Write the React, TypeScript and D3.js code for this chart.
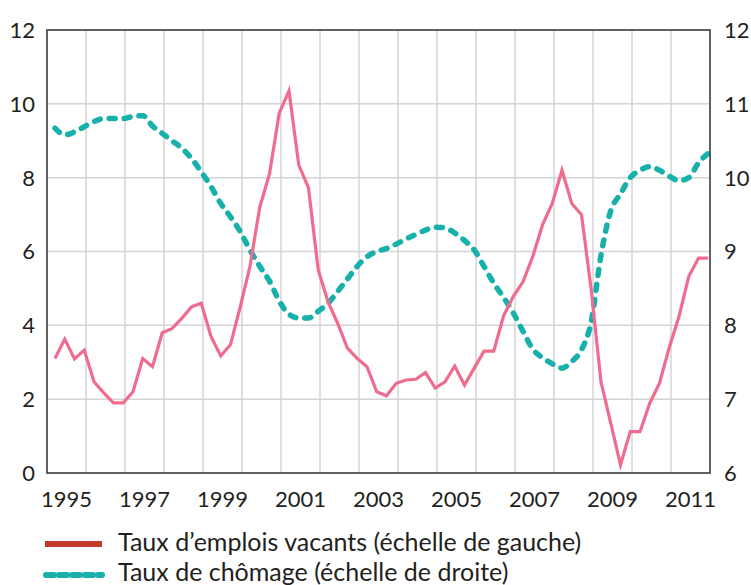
import React from "react";
import * as d3 from "d3";

const years = [1995,1996,1997,1998,1999,2000,2001,2002,2003,2004,2005,2006,2007,2008,2009,2010,2011];
const yearLabels = ["1995","1997","1999","2001","2003","2005","2007","2009","2011"];
const leftTicks = [0,2,4,6,8,10,12];
const rightTicks = [6,7,8,9,10,11,12];

// Taux d'emplois vacants (quarterly, left scale)
const vacancies = [
  3.1, 3.63, 3.09, 3.33,
  2.47, 2.17, 1.9, 1.9,
  2.2, 3.1, 2.88, 3.8,
  3.91, 4.19, 4.5, 4.6,
  3.7, 3.17, 3.48, 4.5,
  5.6, 7.2, 8.1, 9.75,
  10.35, 8.35, 7.72, 5.5,
  4.64, 4.05, 3.38, 3.1,
  2.88, 2.2, 2.09, 2.43,
  2.52, 2.54, 2.72, 2.3,
  2.47, 2.9, 2.38, 2.84,
  3.3, 3.3, 4.25, 4.78,
  5.18, 5.86, 6.72, 7.3,
  8.2, 7.3, 7.0, 4.96,
  2.47, 1.35, 0.22, 1.12,
  1.12, 1.89, 2.43, 3.4,
  4.24, 5.32, 5.82, 5.82,
];

// Taux de chômage (quarterly, right scale)
const unemployment = [
  10.67, 10.58, 10.62, 10.69,
  10.76, 10.8, 10.8, 10.8,
  10.83, 10.84, 10.7, 10.6,
  10.5, 10.4, 10.26, 10.08,
  9.88, 9.65, 9.47, 9.27,
  9.02, 8.8, 8.6, 8.33,
  8.15, 8.1, 8.1, 8.19,
  8.3, 8.46, 8.63, 8.8,
  8.93, 9.0, 9.04, 9.1,
  9.17, 9.23, 9.29, 9.33,
  9.32, 9.25, 9.15, 9.02,
  8.8, 8.57, 8.38, 8.17,
  7.92, 7.68, 7.56, 7.48,
  7.42, 7.51, 7.67, 8.05,
  8.95, 9.55, 9.78, 10.0,
  10.1, 10.15, 10.1, 10.02,
  9.96, 10.0, 10.2, 10.33,
];

const legendLabels = [
  "Taux d\u2019emplois vacants (\u00e9chelle de gauche)",
  "Taux de ch\u00f4mage (\u00e9chelle de droite)",
];

const W = 751, H = 585;
const L = 47, R = 710, T = 30, B = 473;

export default function App() {
  const x = d3.scaleLinear().domain([1995, 2012]).range([L, R]);
  const yL = d3.scaleLinear().domain([0, 12]).range([B, T]);
  const yR = d3.scaleLinear().domain([6, 12]).range([B, T]);
  const tOf = (i: number) => years[0] + Math.floor(i / 4) + ((i % 4) + 0.82) / 4;

  const vacLine = d3.line<number>().x((_, i) => x(tOf(i))).y(d => yL(d));
  const unLine = d3.line<number>().x((_, i) => x(tOf(i))).y(d => yR(d)).curve(d3.curveMonotoneX);

  const font = "Lato, 'Open Sans', sans-serif";
  const textColor = "#231f20";

  return (
    <div style={{ position: "absolute", left: 0, top: 0 }}>
      <svg width={W} height={H} style={{ display: "block", background: "#fff" }}>
        {/* grid */}
        {years.slice(1).map(yr => (
          <line key={"v" + yr} x1={x(yr)} x2={x(yr)} y1={T} y2={B} stroke="#d4d4d4" strokeWidth={1.5} />
        ))}
        {leftTicks.slice(1, -1).map(v => (
          <line key={"h" + v} x1={L} x2={R} y1={yL(v)} y2={yL(v)} stroke="#d4d4d4" strokeWidth={1.5} />
        ))}
        {/* series */}
        <path d={unLine(unemployment) || ""} fill="none" stroke="#17b0aa" strokeWidth={5.5}
          strokeDasharray="6 9" strokeLinecap="round" />
        <path d={vacLine(vacancies) || ""} fill="none" stroke="#f06c8e" strokeWidth={3.2}
          strokeLinejoin="miter" />
        {/* frame */}
        <rect x={L} y={T} width={R - L} height={B - T} fill="none" stroke="#3a3a3a" strokeWidth={1.6} />
        {/* left ticks */}
        {leftTicks.map(v => (
          <text key={"l" + v} x={35} y={yL(v)} dy="0.36em" textAnchor="end" fontFamily={font}
            fontSize={22} fill={textColor}>{v}</text>
        ))}
        {/* right ticks */}
        {rightTicks.map(v => (
          <text key={"r" + v} x={724} y={yR(v)} dy="0.36em" textAnchor="start" fontFamily={font}
            fontSize={22} fill={textColor}>{v}</text>
        ))}
        {/* year labels */}
        {yearLabels.map(lbl => (
          <text key={"y" + lbl} x={x(+lbl + 0.5)} y={507} textAnchor="middle" fontFamily={font}
            fontSize={22} fill={textColor}>{lbl}</text>
        ))}
        {/* legend */}
        <line x1={45} x2={102} y1={544} y2={544} stroke="#c0392b" strokeWidth={6} />
        <text x={118} y={551} fontFamily={font} fontSize={25} fill={textColor}>{legendLabels[0]}</text>
        <line x1={46} x2={102} y1={575} y2={575} stroke="#17b0aa" strokeWidth={6}
          strokeDasharray="8 5" strokeLinecap="round" />
        <text x={118} y={581} fontFamily={font} fontSize={25} fill={textColor}>{legendLabels[1]}</text>
      </svg>
    </div>
  );
}
